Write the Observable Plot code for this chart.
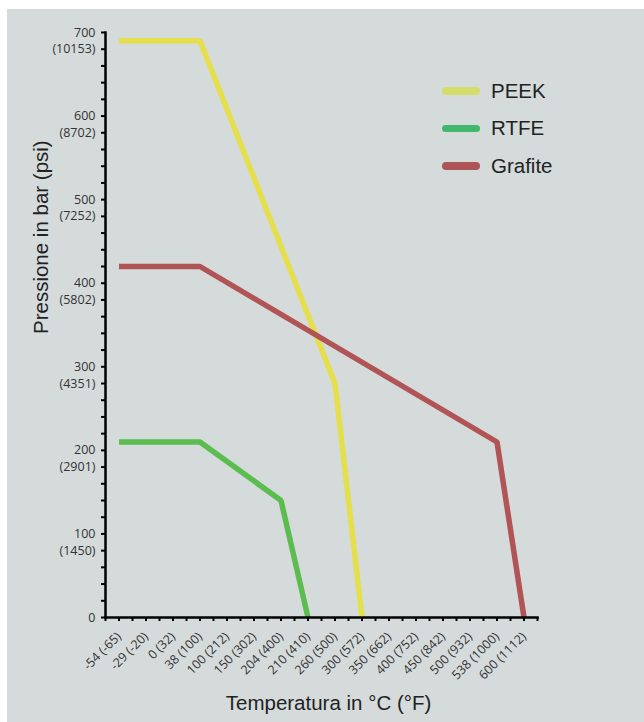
<!DOCTYPE html>
<html><head><meta charset="utf-8">
<script src="https://cdn.jsdelivr.net/npm/d3@7"></script>
<script src="https://cdn.jsdelivr.net/npm/@observablehq/plot@0.6"></script>
<style>
body{margin:0;background:#fff;}
#wrap{position:absolute;left:7px;top:9px;width:637px;height:713px;background:#d5dbdb;}
#legend{position:absolute;left:435px;top:63px;font-family:"Liberation Sans",Arial,sans-serif;font-size:20.5px;color:#222;}
.item{display:flex;align-items:center;height:37.5px;}
.sw{width:38px;height:7.5px;border-radius:4px;margin-right:11px;}
</style></head><body><div id="wrap"><div id="legend"></div></div>
<script>
// Categories (x axis): temperature in °C (°F)
const temps = ["-54 (-65)","-29 (-20)","0 (32)","38 (100)","100 (212)","150 (302)","204 (400)","210 (410)",
  "260 (500)","300 (572)","350 (662)","400 (752)","450 (842)","500 (932)","538 (1000)","600 (1112)"];
// Series
const series = ["PEEK","RTFE","Grafite"];
const peekT = ["-54 (-65)","38 (100)","260 (500)","300 (572)"];
const peekP = [690,690,280,0];
const rtfeT = ["-54 (-65)","38 (100)","204 (400)","210 (410)"];
const rtfeP = [210,210,140,0];
const grafT = ["-54 (-65)","38 (100)","538 (1000)","600 (1112)"];
const grafP = [420,420,210,0];
const colors = ["#e4df4a","#5bbd4e","#b05456"];
const legendColors = ["#d5dd6a","#41b86b","#ad5457"];
// Y tick labels
const yTicks = d3.range(0, 701, 20);
const barLabels = ["0","100","200","300","400","500","600","700"];
const psiLabels = ["(1450)","(2901)","(4351)","(5802)","(7252)","(8702)","(10153)"];

const data = [];
[[peekT,peekP],[rtfeT,rtfeP],[grafT,grafP]].forEach(([t,p],i)=>t.forEach((tt,j)=>data.push({s:series[i],t:tt,p:p[j]})));

const W=637,H=713,ml=98,mr=107,mt=23,mb=105;
const bw=(W-ml-mr)/temps.length;
const yFmt = d => d%100===0 ? barLabels[d/100] : (d%100===80 ? psiLabels[(d+20)/100-1] : "");
const tickFont = {fontSize:12.5,fontFamily:"'Open Sans',sans-serif",fill:"#333"};

const chart = Plot.plot({
  width:W,height:H,marginLeft:ml,marginRight:mr,marginTop:mt,marginBottom:mb,
  style:{background:"transparent",fontFamily:"'Open Sans',sans-serif",fontSize:"12.5px",color:"#333"},
  x:{type:"band",domain:temps,padding:0},
  y:{domain:[0,700]},
  color:{domain:series,range:colors},
  marks:[
    Plot.axisY({ticks:yTicks,tickSize:4,tickPadding:6,tickFormat:yFmt,label:null,strokeWidth:2,stroke:"#000",...tickFont}),
    Plot.axisX({tickSize:4,tickPadding:13,tickRotate:-45,label:null,strokeWidth:2,stroke:"#000",...tickFont}),
    Plot.axisX({tickSize:4,dx:-bw/2,tickFormat:()=>"",label:null,strokeWidth:2,stroke:"#000"}),
    Plot.axisX({ticks:[temps[temps.length-1]],tickSize:4,dx:bw/2,tickFormat:()=>"",label:null,strokeWidth:2,stroke:"#000"}),
    Plot.line(data,{x:"t",y:"p",z:"s",stroke:"s",strokeWidth:5.5,strokeLinecap:"butt",strokeLinejoin:"miter"}),
    Plot.frame({anchor:"left",strokeWidth:2.5,stroke:"#000"}),
    Plot.frame({anchor:"bottom",strokeWidth:2.5,stroke:"#000"}),
    Plot.text(["Temperatura in °C (°F)"],{frameAnchor:"bottom",dy:92,dx:7,fontSize:20.5,fontFamily:"'Liberation Sans',Arial,sans-serif",fill:"#222"}),
    Plot.text(["Pressione in bar (psi)"],{frameAnchor:"left",dx:-64,dy:9,rotate:-90,fontSize:20.5,fontFamily:"'Liberation Sans',Arial,sans-serif",fill:"#222"})
  ]
});
document.getElementById("wrap").appendChild(chart);
const lg = document.getElementById("legend");
series.forEach((s,i)=>{
  const it=document.createElement("div");it.className="item";
  const sw=document.createElement("div");sw.className="sw";sw.style.background=legendColors[i];
  const tx=document.createElement("span");tx.textContent=s;
  it.appendChild(sw);it.appendChild(tx);lg.appendChild(it);
});
</script></body></html>
